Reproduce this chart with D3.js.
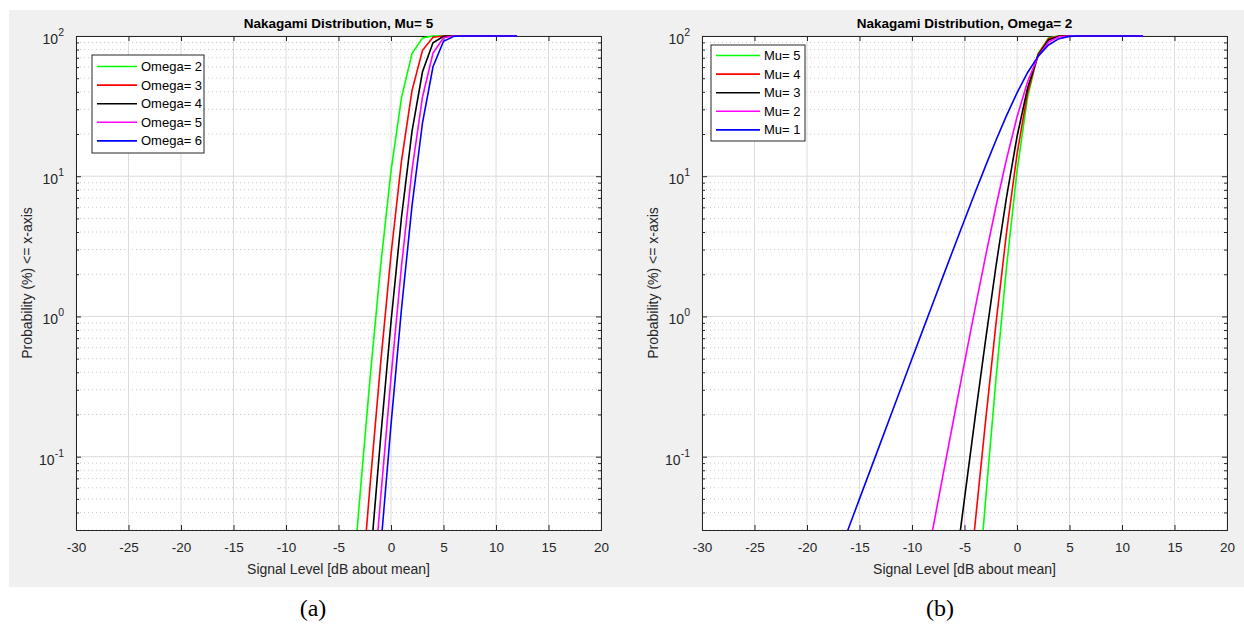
<!DOCTYPE html>
<html>
<head>
<meta charset="utf-8">
<script src="https://cdn.jsdelivr.net/npm/d3@7"></script>
<style>
body{margin:0;background:#fff;}
text{font-family:"Liberation Sans",Arial,sans-serif;}
</style>
</head>
<body>
<svg id="fig" width="1244" height="624"></svg>
<script>
// signal level samples (dB about mean)
var dbLeft = [-4,-3,-2,-1,0,1,2,3,4,5,6,7,8,9,10,11,12];
var dbRight = [-17,-16,-15,-14,-13,-12,-11,-10,-9,-8,-7,-6,-5,-4,-3,-2,-1,0,1,2,3,4,5,6,7,8,9,10,11,12];

// (a) Mu = 5, probability (%) for each Omega
var omega2 = [0.00586,0.0484,0.359,2.246,10.88,36.38,75.07,96.98,99.95,100,100,100,100,100,100,100,100];
var omega3 = [null,0.00758,0.0619,0.4515,2.754,12.85,40.76,79.10,97.91,99.976,100,100,100,100,100,100,100];
var omega4 = [null,null,0.01684,0.1327,0.9124,5.098,20.88,55.53,89.37,99.47,99.998,100,100,100,100,100,100];
var omega5 = [null,null,0.00599,0.0495,0.366,2.286,11.04,36.75,75.43,97.07,99.955,100,100,100,100,100,100];
var omega6 = [null,null,null,0.02168,0.1684,1.135,6.148,24.06,60.36,91.79,99.68,99.999,100,100,100,100,100];

// (b) Omega = 2, probability (%) for each Mu
var mu5 = [null,null,null,null,null,null,null,null,null,null,null,null,null,
  0.00586,0.0484,0.359,2.246,10.88,36.38,75.07,96.98,99.95,100,100,100,100,100,100,100,100];
var mu4 = [null,null,null,null,null,null,null,null,null,null,null,null,
  0.00568,0.0327,0.178,0.893,3.940,14.29,39.08,73.83,95.65,99.86,100,100,100,100,100,100,100,100];
var mu3 = [null,null,null,null,null,null,null,null,null,null,null,
  0.0132,0.0503,0.1876,0.672,2.286,7.072,19.12,42.43,72.59,93.67,99.57,99.996,100,100,100,100,100,100,100];
var mu2 = [null,null,null,null,null,null,null,null,
  0.01243,0.0310,0.0772,0.191,0.468,1.131,2.674,6.105,13.22,26.42,47.02,71.51,90.70,98.67,99.95,100,100,100,100,100,100,100];
var mu1 = [0.0199,0.0315,0.05,0.0792,0.1255,0.199,0.315,0.499,0.789,1.248,1.971,3.106,4.877,7.62,11.80,18.05,
  27.06,39.35,54.73,71.52,86.33,95.74,99.33,99.964,100,100,100,100,100,100];

var xTicks = [-30,-25,-20,-15,-10,-5,0,5,10,15,20];
var yTicks = [0.1,1,10,100];
var yExp = ['-1','0','1','2'];

var svg = d3.select('#fig');
svg.append('rect').attr('x',9).attr('y',10).attr('width',1235).attr('height',577).style('fill','#f0f0f0');

function panel(o) {
  var g = svg.append('g');
  var top = 36, bot = 530;
  var x = d3.scaleLinear().domain([-30,20]).range([o.left,o.right]);
  var y = d3.scaleLog().domain([0.03,100]).range([bot,top]);

  g.append('rect').attr('x',o.left).attr('y',top).attr('width',o.right-o.left).attr('height',bot-top).style('fill','#fff');

  // minor y grid (dotted)
  var minor = [];
  [-2,-1,0,1].forEach(k=>{ for (var j=2;j<=9;j++){ var v=j*Math.pow(10,k); if (v>=0.03 && v<100) minor.push(v);} });
  g.selectAll('.mg').data(minor).enter().append('line')
    .attr('x1',o.left).attr('x2',o.right).attr('y1',d=>y(d)).attr('y2',d=>y(d))
    .style('stroke','#c8c8c8').style('stroke-width',1).style('stroke-dasharray','1,3');
  // major grid
  g.selectAll('.gy').data(yTicks).enter().append('line')
    .attr('x1',o.left).attr('x2',o.right).attr('y1',d=>y(d)).attr('y2',d=>y(d))
    .style('stroke','#dcdcdc').style('stroke-width',1);
  g.selectAll('.gx').data(xTicks).enter().append('line')
    .attr('x1',d=>x(d)).attr('x2',d=>x(d)).attr('y1',top).attr('y2',bot)
    .style('stroke','#dcdcdc').style('stroke-width',1);

  // axes (ticks inward, box)
  var ax = g.append('g').attr('transform','translate(0,'+bot+')')
    .call(d3.axisBottom(x).tickValues(xTicks).tickSize(-5).tickPadding(12).tickFormat(d=>String(d)));
  var axT = g.append('g').attr('transform','translate(0,'+top+')')
    .call(d3.axisTop(x).tickValues(xTicks).tickSize(-5).tickFormat(''));
  var ay = g.append('g').attr('transform','translate('+o.left+',0)')
    .call(d3.axisLeft(y).tickValues(yTicks).tickSize(-5).tickPadding(8).tickFormat(''));
  var ayR = g.append('g').attr('transform','translate('+o.right+',0)')
    .call(d3.axisRight(y).tickValues(yTicks).tickSize(-5).tickFormat(''));
  var ayM = g.append('g').attr('transform','translate('+o.left+',0)')
    .call(d3.axisLeft(y).tickValues(minor).tickSize(-3).tickFormat(''));
  var ayMR = g.append('g').attr('transform','translate('+o.right+',0)')
    .call(d3.axisRight(y).tickValues(minor).tickSize(-3).tickFormat(''));
  [ax,axT,ay,ayR,ayM,ayMR].forEach(a=>{
    a.select('.domain').style('stroke','#262626');
    a.selectAll('.tick line').style('stroke','#262626');
  });
  ayM.select('.domain').remove(); ayMR.select('.domain').remove();
  ax.selectAll('text').style('font-size','13.5px').style('fill','#262626').style('font-family','"Liberation Sans",Arial,sans-serif');

  // curves, drawn over the box like in the figure
  var clipId = 'clip'+o.id;
  svg.append('clipPath').attr('id',clipId).append('rect')
    .attr('x',o.left).attr('y',top-2).attr('width',o.right-o.left).attr('height',bot-top+2);
  var line = d3.line().defined(d=>d[1]!=null).x(d=>x(d[0])).y(d=>y(d[1]));
  o.series.forEach(s=>{
    g.append('path').datum(o.db.map((v,i)=>[v,s.v[i]]))
      .attr('d',line).attr('clip-path','url(#'+clipId+')')
      .style('fill','none').style('stroke',s.c).style('stroke-width',1.6);
  });

  // y tick labels 10^n
  yTicks.forEach((v,i)=>{
    var t = g.append('text').attr('x',o.left-12).attr('y',y(v)+8)
      .attr('text-anchor','end').style('font-size','14px').style('fill','#262626');
    t.append('tspan').text('10');
    t.append('tspan').attr('dy',-8).style('font-size','10.5px').text(yExp[i]);
  });

  // title & labels
  g.append('text').attr('x',(o.left+o.right)/2).attr('y',28).attr('text-anchor','middle')
    .style('font-size','13.5px').style('font-weight','bold').style('fill','#000').text(o.title);
  g.append('text').attr('x',(o.left+o.right)/2).attr('y',574).attr('text-anchor','middle')
    .style('font-size','14px').style('fill','#262626').text('Signal Level [dB about mean]');
  g.append('text').attr('transform','translate('+(o.left-44)+','+((top+bot)/2)+') rotate(-90)')
    .attr('text-anchor','middle').style('font-size','14px').style('fill','#262626')
    .text('Probability (%) <= x-axis');

  // legend
  var L = o.legend;
  g.append('rect').attr('x',L.x).attr('y',L.y).attr('width',L.w).attr('height',L.h)
    .style('fill','#fff').style('stroke','#262626').style('stroke-width',1);
  o.series.forEach((s,i)=>{
    var yy = L.y + L.first + i*L.step;
    g.append('line').attr('x1',L.x+5).attr('x2',L.x+L.lineLen+5).attr('y1',yy).attr('y2',yy)
      .style('stroke',s.c).style('stroke-width',1.6);
    g.append('text').attr('x',L.x+L.lineLen+9).attr('y',yy+4.5)
      .style('font-size','13px').style('fill','#000').text(s.name);
  });

  // caption
  svg.append('text').attr('x',o.cap).attr('y',616).attr('text-anchor','middle')
    .style('font-family','"Liberation Serif","Times New Roman",serif').style('font-size','24px')
    .style('fill','#000').text(o.caption);
}

panel({id:'a', left:76, right:601, db:dbLeft, title:'Nakagami Distribution, Mu= 5', caption:'(a)', cap:313,
  series:[
    {name:'Omega= 2', c:'#00ff00', v:omega2},
    {name:'Omega= 3', c:'#ff0000', v:omega3},
    {name:'Omega= 4', c:'#000000', v:omega4},
    {name:'Omega= 5', c:'#ff00ff', v:omega5},
    {name:'Omega= 6', c:'#0000ff', v:omega6}],
  legend:{x:92, y:55, w:112, h:98, first:11.5, step:18.6, lineLen:40}});

panel({id:'b', left:702, right:1227, db:dbRight, title:'Nakagami Distribution, Omega= 2', caption:'(b)', cap:940,
  series:[
    {name:'Mu= 5', c:'#00ff00', v:mu5},
    {name:'Mu= 4', c:'#ff0000', v:mu4},
    {name:'Mu= 3', c:'#000000', v:mu3},
    {name:'Mu= 2', c:'#ff00ff', v:mu2},
    {name:'Mu= 1', c:'#0000ff', v:mu1}],
  legend:{x:711, y:45, w:94, h:96, first:10.5, step:18.6, lineLen:44}});
</script>
</body>
</html>
